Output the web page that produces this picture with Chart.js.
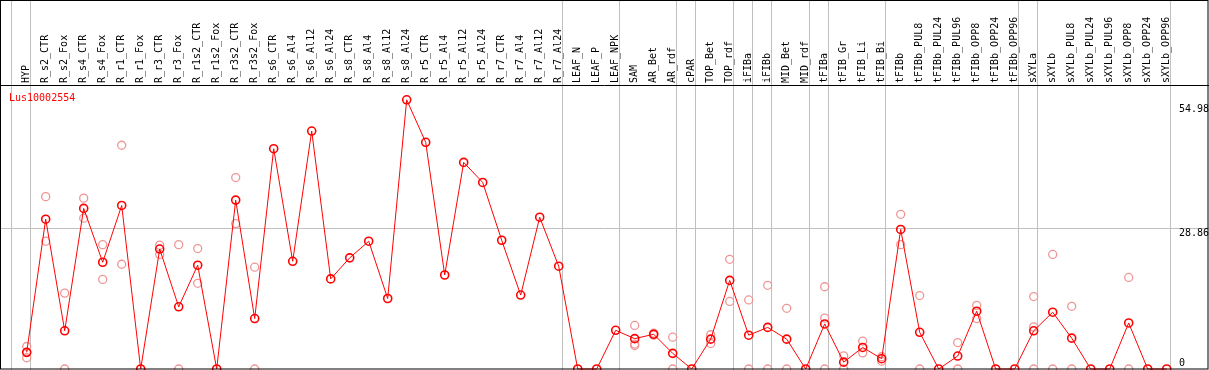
<!DOCTYPE html>
<html>
<head>
<meta charset="utf-8">
<script src="https://cdn.jsdelivr.net/npm/chart.js@4/dist/chart.umd.min.js"></script>
<style>
html,body{margin:0;padding:0;background:#fff;}
#wrap{width:1209px;height:370px;position:relative;}
</style>
</head>
<body>
<div id="wrap"><canvas id="c"></canvas></div>
<script>
const categories = ["HYP","R_s2_CTR","R_s2_Fox","R_s4_CTR","R_s4_Fox","R_r1_CTR","R_r1_Fox","R_r3_CTR","R_r3_Fox","R_r1s2_CTR","R_r1s2_Fox","R_r3s2_CTR","R_r3s2_Fox","R_s6_CTR","R_s6_Al4","R_s6_Al12","R_s6_Al24","R_s8_CTR","R_s8_Al4","R_s8_Al12","R_s8_Al24","R_r5_CTR","R_r5_Al4","R_r5_Al12","R_r5_Al24","R_r7_CTR","R_r7_Al4","R_r7_Al12","R_r7_Al24","LEAF_N","LEAF_P","LEAF_NPK","SAM","AR_Bet","AR_rdf","cPAR","TOP_Bet","TOP_rdf","iFIBa","iFIBb","MID_Bet","MID_rdf","tFIBa","tFIB_Gr","tFIB_Li","tFIB_Bi","tFIBb","tFIBb_PUL8","tFIBb_PUL24","tFIBb_PUL96","tFIBb_OPP8","tFIBb_OPP24","tFIBb_OPP96","sXYLa","sXYLb","sXYLb_PUL8","sXYLb_PUL24","sXYLb_PUL96","sXYLb_OPP8","sXYLb_OPP24","sXYLb_OPP96"];

const meanValues = [3.4,30.6,7.8,32.8,21.8,33.4,0,24.5,12.7,21.2,0,34.5,10.3,45.0,22.0,48.6,18.4,22.7,26.1,14.4,54.98,46.3,19.2,42.2,38.1,26.3,15.1,31.0,21.0,0,0,7.9,6.2,7.1,3.2,0,6.1,18.1,6.9,8.5,6.1,0,9.2,1.4,4.4,2.1,28.5,7.5,0,2.65,11.8,0,0,7.8,11.6,6.3,0,0,9.4,0,0];

const replicateA = [4.6,35.2,15.5,34.9,25.4,45.7,null,25.3,25.4,24.6,null,39.1,20.8,null,null,null,null,null,null,null,null,null,null,null,null,null,null,null,null,null,null,null,8.9,7.3,6.5,null,7.0,22.4,14.1,17.1,12.4,null,16.8,2.7,5.7,2.5,31.6,15.0,null,5.4,13.0,null,null,14.8,23.4,12.8,null,null,18.7,null,null];
const replicateB = [2.3,26.1,0,30.8,18.3,21.4,null,23.4,0,17.5,null,29.7,0,null,null,null,null,null,null,null,null,null,null,null,null,null,null,null,null,null,null,null,5.1,6.9,0,null,5.2,13.8,0,0,0,null,10.4,0,3.3,1.6,25.4,0,null,0,10.3,null,null,8.6,0,0,null,null,0,null,null];
const replicateC = [3.4,null,null,null,null,null,null,null,null,null,null,null,null,null,null,null,null,null,null,null,null,null,null,null,null,null,null,null,null,null,null,null,4.8,null,null,null,null,null,null,null,null,null,0,null,null,null,null,null,null,null,null,null,null,0,null,null,null,null,null,null,null];

const rightTicks = ["54.98","28.86","0"];
const tickValues = [54.98, 28.86, 0];
const groupEnds = [-1,0,28,31,34,35,37,38,39,41,42,45,52,53,60];
const seriesName = "Lus10002554";

const meanPoints = meanValues.map((v,i)=>({x:i,y:v}));
const repPoints = [];
[replicateA,replicateB,replicateC].forEach(arr=>arr.forEach((v,i)=>{ if(v!==null) repPoints.push({x:i,y:v}); }));

const FONT = '10px "DejaVu Sans Mono", "Liberation Mono", monospace';

const decor = {
  id:'decor',
  beforeDatasetsDraw(chart){
    const ctx = chart.ctx, xs = chart.scales.x, ys = chart.scales.y;
    ctx.save();
    ctx.strokeStyle = '#c0c0c0';
    ctx.lineWidth = 1;
    groupEnds.forEach(g=>{
      const px = Math.round(xs.getPixelForValue(g) + 3.6) + 0.5;
      ctx.beginPath(); ctx.moveTo(px,0); ctx.lineTo(px,370); ctx.stroke();
    });
    const gy = Math.round(ys.getPixelForValue(28.86)) + 0.5;
    ctx.beginPath(); ctx.moveTo(0,gy); ctx.lineTo(1209,gy); ctx.stroke();
    ctx.restore();
  },
  afterDraw(chart){
    const ctx = chart.ctx, xs = chart.scales.x, ys = chart.scales.y;
    ctx.save();
    ctx.strokeStyle = '#000'; ctx.lineWidth = 1;
    ctx.strokeRect(0.5,0.5,1207.5,368.5);
    ctx.beginPath(); ctx.moveTo(0,85.5); ctx.lineTo(1209,85.5); ctx.stroke();
    ctx.font = FONT; ctx.fillStyle = '#000';
    ctx.textAlign = 'left'; ctx.textBaseline = 'middle';
    categories.forEach((c,i)=>{
      const px = xs.getPixelForValue(i) - 0.5;
      ctx.save(); ctx.translate(px, 83); ctx.rotate(-Math.PI/2);
      ctx.fillText(c,0,0); ctx.restore();
    });
    ctx.textBaseline = 'alphabetic';
    const offs = [12.5, 8.5, -3];
    tickValues.forEach((v,k)=>{
      const py = ys.getPixelForValue(v) + offs[k];
      ctx.fillText(rightTicks[k], 1179, py);
    });
    ctx.fillStyle = '#ff0000';
    ctx.fillText(seriesName, 9, 101);
    ctx.restore();
  }
};

new Chart(document.getElementById('c'), {
  type:'line',
  data:{
    datasets:[
      {
        label:'mean', data:meanPoints, borderColor:'#ff0000', borderWidth:1,
        pointRadius:4, pointBorderColor:'#ff0000', pointBackgroundColor:'rgba(0,0,0,0)',
        pointBorderWidth:1.6, tension:0, clip:false, order:1
      },
      {
        label:'replicates', data:repPoints, showLine:false,
        pointRadius:4, pointBorderColor:'rgb(238,150,150)', pointBackgroundColor:'rgba(0,0,0,0)',
        pointBorderWidth:1.3, clip:false, order:2
      }
    ]
  },
  options:{
    responsive:true, maintainAspectRatio:false, animation:false,
    layout:{autoPadding:false, padding:{top:86,bottom:1,left:0,right:0}},
    plugins:{legend:{display:false}, tooltip:{enabled:false}},
    scales:{
      x:{type:'linear', display:false, min:-26.7/19, max:(1209-26.7)/19},
      y:{display:false, min:0, max:283/4.896}
    }
  },
  plugins:[decor]
});
</script>
</body>
</html>
